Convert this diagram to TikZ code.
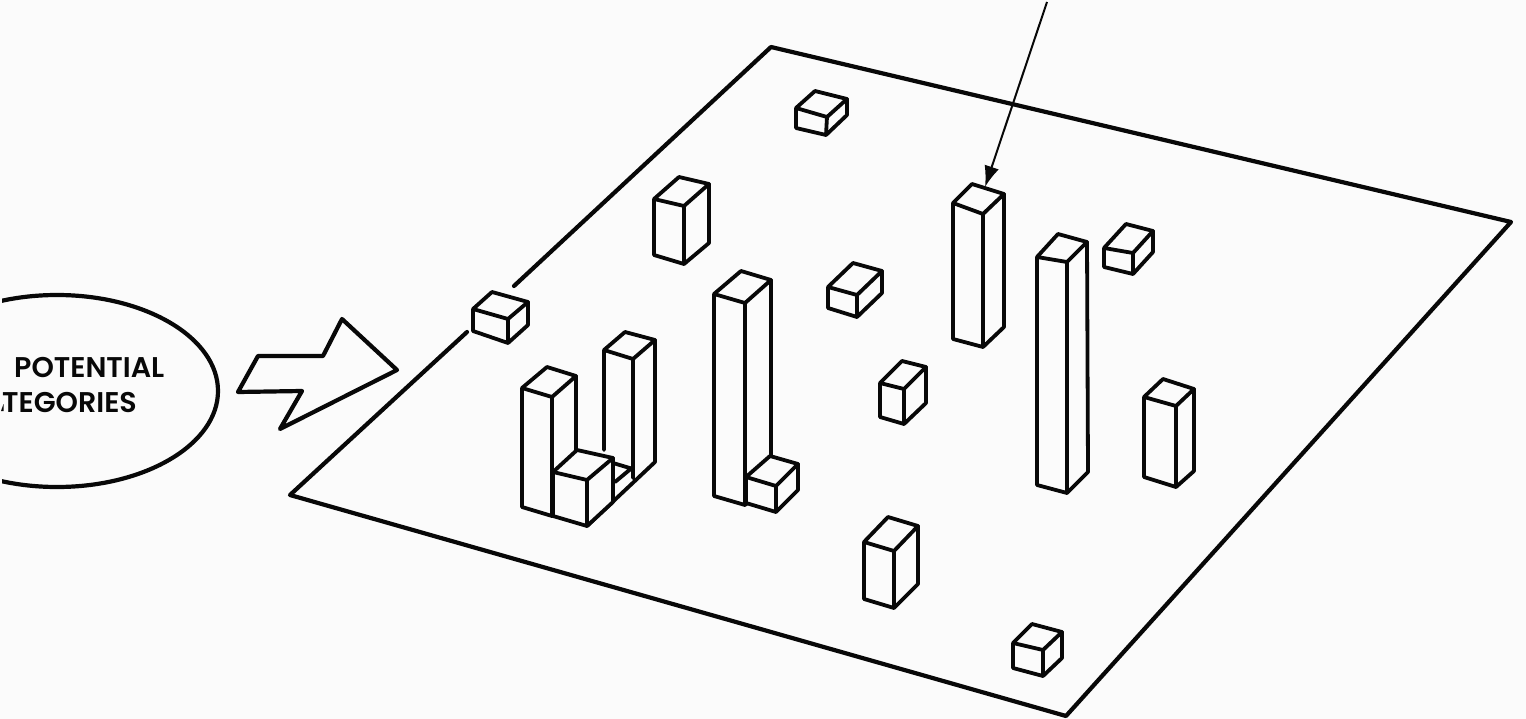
\documentclass[tikz,border=0pt]{standalone}
\usepackage{fontspec}
\newfontfamily\capfont{Poppins SemiBold}
\usetikzlibrary{arrows.meta}
\definecolor{paper}{gray}{0.985}
\definecolor{ink}{gray}{0.03}
\tikzset{
  outline/.style={draw=ink,line width=3.8pt,line join=round,line cap=round},
  thick edge/.style={outline,line width=4.2pt},
  pointer/.style={draw=ink,line width=2pt,-{Latex[length=21pt,width=15pt]}},
  caption/.style={anchor=base west,inner sep=0pt,text=ink,font=\capfont\fontsize{28.5}{30}\selectfont},
}
% top face A B C D, bottom corners A' B' C'
\newcommand{\cuboid}[7]{%
  \path[fill=paper] #1 -- #4 -- #3 -- #7 -- #6 -- #5 -- cycle;
  \draw[outline] #1 -- #2 -- #3 -- #4 -- cycle #1 -- #5 -- #6 -- #7 -- #3 #2 -- #6;
}
\begin{document}
\begin{tikzpicture}[x=1pt,y=-1pt]
\useasboundingbox (0,0) rectangle (1526,719);
\fill[paper] (0,0) rectangle (1526,719);

% base plane
\coordinate (pl) at (290,495);
\coordinate (pt) at (771,47);
\coordinate (pr) at (1511,222);
\coordinate (pb) at (1066,716);
\coordinate (gapa) at (467,332);
\coordinate (gapb) at (514,286);
\draw[thick edge] (gapb) -- (pt) -- (pr) -- (pb) -- (pl) -- (gapa);

% ellipse, cut off by the page at the left
\begin{scope}
\clip (2,200) rectangle (400,600);
\draw[thick edge] (57,391) ellipse [x radius=161pt,y radius=96pt];
\end{scope}
\node[caption] (lineone) at (14,377) {POTENTIAL};
\node[caption,anchor=base east] (linetwo) at (137,412) {TEGORIES};
\path[fill=ink] (1,411) -- (3.5,404) -- (3.5,411) -- cycle;

% jagged arrow
\draw[thick edge] (258,356) -- (323,356) -- (342,319) -- (397,370) -- (280,429) -- (302,391) -- (238,392) -- cycle;

% free standing blocks
\cuboid{(473,309)}{(508,319)}{(528,302)}{(492,292)}{(473,331)}{(508,343)}{(528,325)}
\cuboid{(796,108)}{(827,117)}{(847,99)}{(815,91)}{(796,128)}{(826,135)}{(847,115)}
\cuboid{(654,199)}{(684,206)}{(709,184)}{(679,177)}{(654,255)}{(684,264)}{(709,243)}
\cuboid{(828,287)}{(857,295)}{(882,271)}{(853,263)}{(828,308)}{(857,317)}{(882,293)}
\cuboid{(953,203)}{(983,214)}{(1004,194)}{(972,184)}{(953,339)}{(983,347)}{(1004,327)}
\cuboid{(1037,257)}{(1067,262)}{(1087,242)}{(1058,234)}{(1037,485)}{(1067,493)}{(1088,472)}
\cuboid{(1104,248)}{(1133,253)}{(1153,231)}{(1126,224)}{(1104,267)}{(1133,274)}{(1153,252)}
\cuboid{(880,383)}{(904,389)}{(926,367)}{(902,361)}{(880,417)}{(904,424)}{(926,403)}
\cuboid{(1144,397)}{(1176,406)}{(1194,389)}{(1163,379)}{(1144,477)}{(1176,487)}{(1194,471)}
\cuboid{(864,542)}{(894,551)}{(918,526)}{(888,517)}{(864,599)}{(894,608)}{(918,584)}
\cuboid{(1013,643)}{(1043,650)}{(1062,632)}{(1032,624)}{(1013,668)}{(1043,676)}{(1062,658)}

% group at left: back tall block
\draw[outline] (604,350) -- (633,359) -- (655,340) -- (625,332) -- cycle
  (604,350) -- (604,450)
  (633,359) -- (633,478)
  (655,340) -- (655,462) -- (587,526)
  (613,463) -- (633,469)
  (615,482) -- (633,467);
% group at left: front tall block
\cuboid{(522,388)}{(552,397)}{(576,376)}{(547,367)}{(522,507)}{(552,516)}{(576,494)}
% group at left: small block in front
\cuboid{(553,472)}{(587,480)}{(613,458)}{(577,450)}{(553,516)}{(587,526)}{(613,502)}

% middle L group
\cuboid{(714,294)}{(745,303)}{(771,280)}{(741,271)}{(714,496)}{(745,505)}{(771,482)}
\cuboid{(746,477)}{(776,486)}{(798,464)}{(770,456)}{(746,503)}{(776,512)}{(798,490)}

% pointer
\coordinate (ps) at (1047,2);
\coordinate (pe) at (985,187);
\draw[pointer] (ps) -- (pe);
\end{tikzpicture}
\end{document}
